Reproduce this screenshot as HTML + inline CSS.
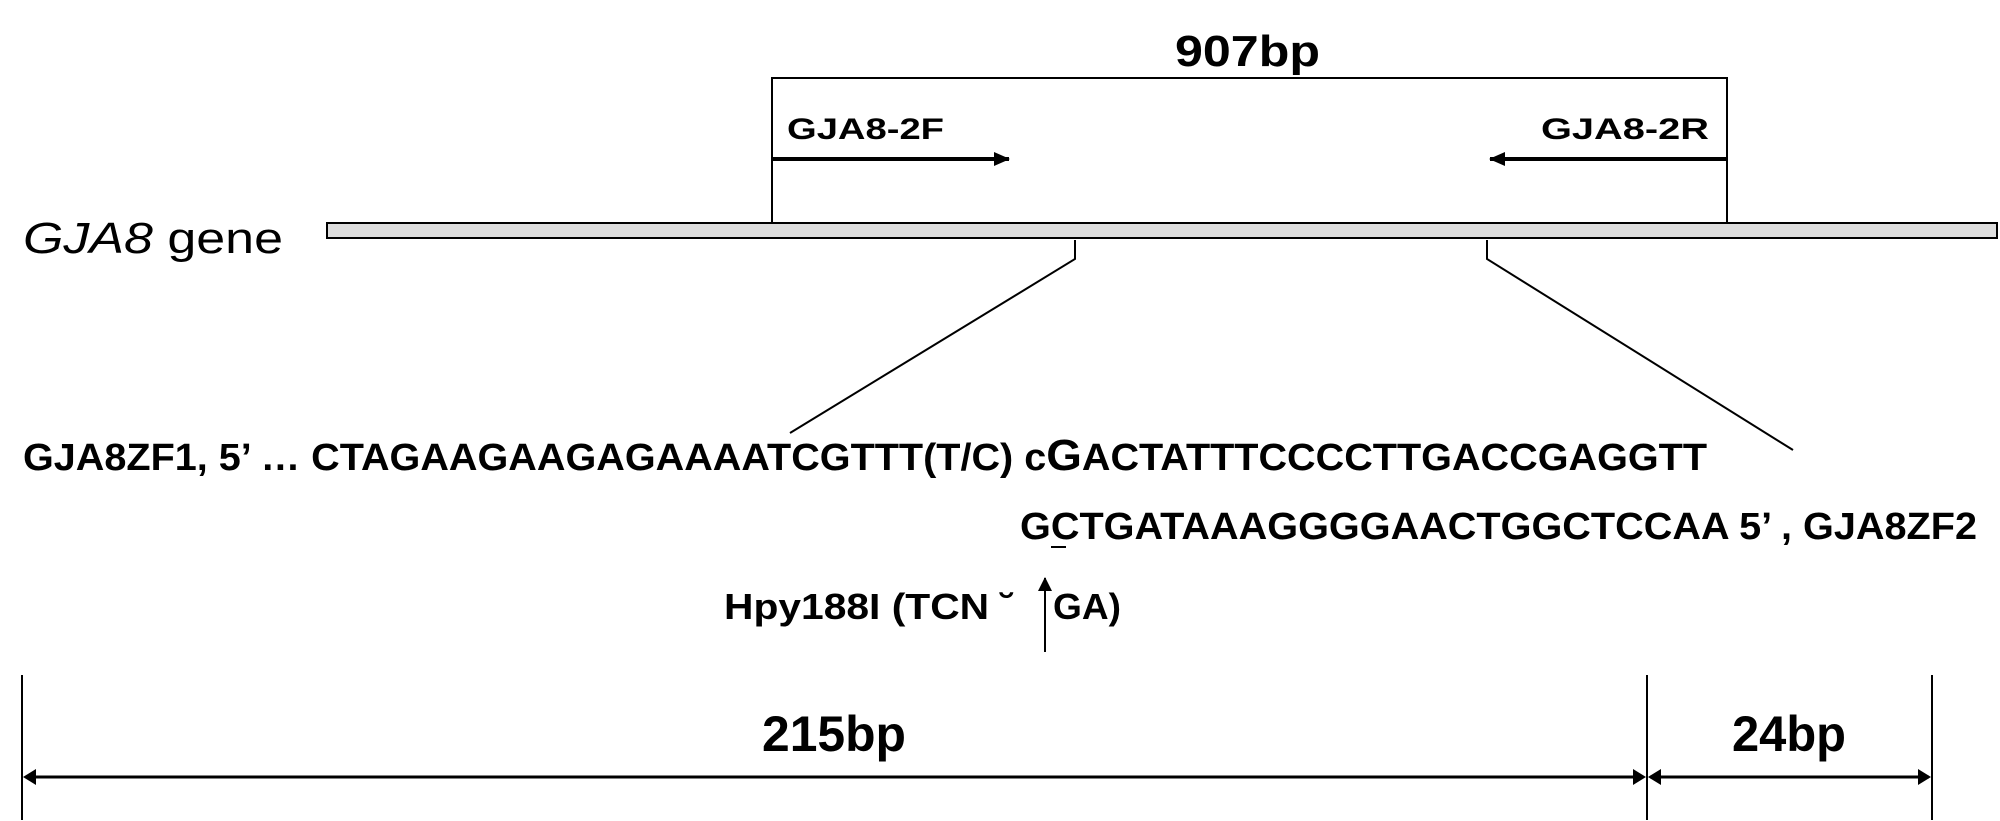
<!DOCTYPE html>
<html><head><style>html,body{margin:0;padding:0;background:#fff}svg{display:block}</style></head>
<body>
<svg width="2000" height="821" viewBox="0 0 2000 821" xmlns="http://www.w3.org/2000/svg" font-family="Liberation Sans, Arial, sans-serif" font-weight="bold">
<defs>
<marker id="ah" markerWidth="14" markerHeight="14" refX="13" refY="7" orient="auto" markerUnits="userSpaceOnUse"><path d="M0,0 L14,7 L0,14 Z" fill="#000"/></marker>
<marker id="ah2" markerWidth="16" markerHeight="16" refX="15" refY="8" orient="auto" markerUnits="userSpaceOnUse"><path d="M0,1 L16,8 L0,15 Z" fill="#000"/></marker>
</defs>
<text x="1175" y="66" font-size="44" textLength="145" lengthAdjust="spacingAndGlyphs">907bp</text>
<polyline points="772,222 772,78 1727,78 1727,222" fill="none" stroke="#000" stroke-width="2"/>
<text x="787" y="139" font-size="30" textLength="157" lengthAdjust="spacingAndGlyphs">GJA8-2F</text>
<text x="1541" y="139" font-size="30" textLength="168" lengthAdjust="spacingAndGlyphs">GJA8-2R</text>
<line x1="772" y1="159" x2="1009" y2="159" stroke="#000" stroke-width="4" marker-end="url(#ah2)"/>
<line x1="1727" y1="159" x2="1490" y2="159" stroke="#000" stroke-width="4" marker-end="url(#ah2)"/>
<text x="23" y="253" font-size="44" font-weight="normal" textLength="260" lengthAdjust="spacingAndGlyphs"><tspan font-style="italic">GJA8</tspan> gene</text>
<rect x="327" y="223" width="1670" height="15" fill="#ddd" stroke="#000" stroke-width="2"/>
<polyline points="1075,240 1075,259 790,433" fill="none" stroke="#000" stroke-width="2"/>
<polyline points="1487,240 1487,259 1793,450" fill="none" stroke="#000" stroke-width="2"/>
<text x="23" y="470" font-size="38" textLength="1684" lengthAdjust="spacingAndGlyphs">GJA8ZF1, 5’ … CTAGAAGAAGAGAAAATCGTTT(T/C) c<tspan font-size="44">G</tspan>ACTATTTCCCCTTGACCGAGGTT</text>
<text x="1020" y="539" font-size="38" textLength="957" lengthAdjust="spacingAndGlyphs">GCTGATAAAGGGGAACTGGCTCCAA 5’ , GJA8ZF2</text>
<line x1="1051" y1="547" x2="1066" y2="547" stroke="#000" stroke-width="2"/>
<line x1="1045" y1="652" x2="1045" y2="578" stroke="#000" stroke-width="2" marker-end="url(#ah)"/>
<text x="724" y="619" font-size="36" textLength="290" lengthAdjust="spacingAndGlyphs">Hpy188I (TCN ˘</text>
<text x="1053" y="619" font-size="36" textLength="68" lengthAdjust="spacingAndGlyphs">GA)</text>
<line x1="22" y1="675" x2="22" y2="820" stroke="#000" stroke-width="2"/>
<line x1="1647" y1="675" x2="1647" y2="820" stroke="#000" stroke-width="2"/>
<line x1="1932" y1="675" x2="1932" y2="820" stroke="#000" stroke-width="2"/>
<line x1="26" y1="777" x2="1643" y2="777" stroke="#000" stroke-width="3"/>
<path d="M23,777 L36,769 L36,785 Z M1646,777 L1633,769 L1633,785 Z M1648,777 L1661,769 L1661,785 Z M1931,777 L1918,769 L1918,785 Z" fill="#000"/>
<line x1="1650" y1="777" x2="1929" y2="777" stroke="#000" stroke-width="3"/>
<text x="762" y="751" font-size="50" textLength="144" lengthAdjust="spacingAndGlyphs">215bp</text>
<text x="1732" y="751" font-size="50" textLength="114" lengthAdjust="spacingAndGlyphs">24bp</text>
</svg>
</body></html>
